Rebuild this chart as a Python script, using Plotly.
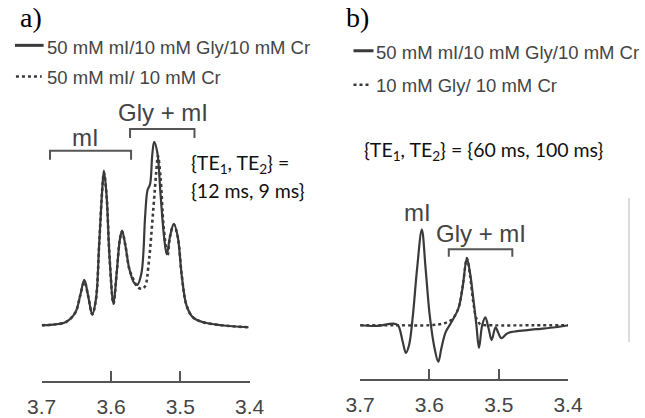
import plotly.graph_objects as go

# ---------------- data ----------------
tick_vals = [3.7, 3.6, 3.5, 3.4]
tick_text = ["3.7", "3.6", "3.5", "3.4"]

# Panel a: {TE1, TE2} = {12 ms, 9 ms}
a_ppm_solid = [3.700, 3.6835, 3.665, 3.6514, 3.6445, 3.6385, 3.633, 3.627, 3.6216, 3.617,
               3.6124, 3.6102, 3.6065, 3.6019, 3.5964, 3.5918, 3.5872, 3.584, 3.579, 3.5735,
               3.5666, 3.562, 3.556, 3.5505, 3.5473, 3.5436, 3.5404, 3.5377, 3.5331, 3.5285,
               3.523, 3.5194, 3.5148, 3.5093, 3.5037, 3.4978, 3.4909, 3.4817, 3.4679, 3.4405, 3.4015]
a_int_solid = [0, 0.7, 3.3, 13, 30, 46, 30, 11, 27, 83,
               140, 157, 133, 67, 22, 53, 87, 96, 80, 57,
               43, 41, 53, 113, 137, 143, 173, 186, 175, 133,
               87, 72, 90, 103, 90, 50, 20, 8, 3.3, 0, -2]

a_ppm_dot = [3.700, 3.6835, 3.665, 3.6514, 3.6445, 3.6385, 3.633, 3.627, 3.6216, 3.617,
             3.6124, 3.6102, 3.6065, 3.6019, 3.5964, 3.5918, 3.5872, 3.584, 3.579, 3.5735,
             3.5666, 3.562, 3.5551, 3.5505, 3.546, 3.539, 3.5345, 3.5322, 3.5285, 3.524,
             3.5184, 3.5148, 3.5093, 3.5037, 3.4978, 3.4909, 3.4817, 3.4679, 3.4405, 3.4015]
a_int_dot = [0, 0.7, 3.3, 13, 30, 44, 30, 11, 27, 83,
             140, 155, 133, 67, 22, 53, 87, 95, 80, 57,
             45, 39, 37, 40, 60, 117, 157, 172, 150, 100,
             71, 90, 102, 90, 50, 20, 8, 3.3, 0, -2]

# Panel b: {TE1, TE2} = {60 ms, 100 ms}
b_ppm_solid = [3.700, 3.6752, 3.6523, 3.6454, 3.6385, 3.634, 3.6294, 3.6239, 3.6179, 3.611,
               3.6055, 3.5996, 3.5927, 3.5872, 3.5827, 3.5766, 3.5675, 3.5583, 3.5524, 3.546,
               3.5414, 3.5367, 3.5322, 3.5285, 3.5239, 3.5194, 3.5147, 3.5102, 3.5047, 3.501,
               3.4964, 3.4872, 3.4735, 3.446, 3.4184, 3.400]
b_int_solid = [0, -0.7, 1.7, 0, -17, -28, -20, 10, 57, 97,
               57, 10, -23, -37, -23, -7, 4, 17, 37, 68,
               53, 27, 0, -23, 0, 8, -3, -15, -2, -7,
               -13, -8, -6, -4, -2, 0]

b_ppm_dot = [3.700, 3.650, 3.600, 3.579, 3.5675, 3.5583, 3.5514, 3.546, 3.5414, 3.5367,
             3.5322, 3.5263, 3.510, 3.450, 3.400]
b_int_dot = [0, 0, 0, 2, 6, 17, 43, 68, 50, 23,
             7, 1, 0, 0, 0]

# ---------------- styling ----------------
W, H = 645, 418
LINE = "#3a3a3a"
GRAY = "#555555"
TXT = "#444444"


def px(x):
    return x / W


def py(y):
    return 1 - y / H


fig = go.Figure()
fig.add_trace(go.Scatter(x=a_ppm_solid, y=a_int_solid, mode="lines", line_shape="spline",
                         line=dict(color=LINE, width=2.2), xaxis="x", yaxis="y", showlegend=False))
fig.add_trace(go.Scatter(x=a_ppm_dot, y=a_int_dot, mode="lines", line_shape="spline",
                         line=dict(color=LINE, width=2.6, dash="dot"), xaxis="x", yaxis="y", showlegend=False))
fig.add_trace(go.Scatter(x=b_ppm_dot, y=b_int_dot, mode="lines", line_shape="spline",
                         line=dict(color=LINE, width=2.4, dash="dot"), xaxis="x2", yaxis="y2", showlegend=False))
fig.add_trace(go.Scatter(x=b_ppm_solid, y=b_int_solid, mode="lines", line_shape="spline",
                         line=dict(color=LINE, width=2.2), xaxis="x2", yaxis="y2", showlegend=False))

xcommon = dict(range=[3.7, 3.4], tickvals=tick_vals, ticktext=tick_text, showline=True,
               linecolor=GRAY, linewidth=2, ticks="inside", ticklen=10, tickwidth=2,
               tickcolor=GRAY, showgrid=False, zeroline=False, ticklabelstandoff=5,
               tickfont=dict(family="Liberation Sans", size=21, color=TXT))

fig.update_layout(
    width=W, height=H, margin=dict(l=0, r=0, t=0, b=0),
    paper_bgcolor="white", plot_bgcolor="white",
    xaxis=dict(domain=[px(28), px(246)], anchor="y", **xcommon),
    yaxis=dict(domain=[py(387), py(100)], range=[-57, 230], visible=False, anchor="x"),
    xaxis2=dict(domain=[px(362), px(580)], anchor="y2", **xcommon),
    yaxis2=dict(domain=[py(385), py(100)], range=[-55, 230], visible=False, anchor="x2"),
)

shapes = []


def bracket(xref, yref, x0, x1, yv, depth):
    shapes.append(dict(type="path", xref=xref, yref=yref,
                       path=f"M {x0},{yv - depth} L {x0},{yv} L {x1},{yv} L {x1},{yv - depth}",
                       line=dict(color=GRAY, width=2)))


bracket("x", "y", 3.688, 3.571, 177, 9)
bracket("x", "y", 3.5725, 3.4795, 199, 9)
bracket("x2", "y2", 3.5721, 3.4804, 77, 7.5)

# legend samples
shapes.append(dict(type="line", xref="paper", yref="paper", x0=px(0), x1=px(30), y0=py(46), y1=py(46),
                   line=dict(color=LINE, width=3)))
shapes.append(dict(type="line", xref="paper", yref="paper", x0=px(1), x1=px(28), y0=py(77.5), y1=py(77.5),
                   line=dict(color=LINE, width=2.5, dash="dot")))
shapes.append(dict(type="line", xref="paper", yref="paper", x0=px(355), x1=px(376), y0=py(51.5), y1=py(51.5),
                   line=dict(color=LINE, width=3)))
shapes.append(dict(type="line", xref="paper", yref="paper", x0=px(355), x1=px(373), y0=py(86), y1=py(86),
                   line=dict(color=LINE, width=2.5, dash="dot")))
# faint frame edge at the right
shapes.append(dict(type="line", xref="paper", yref="paper", x0=px(644), x1=px(644), y0=py(201), y1=py(347),
                   line=dict(color="#d0d0d0", width=1.5)))
fig.update_layout(shapes=shapes)

ann = []
sans = "Liberation Sans"
calib = "Lato"


def note(text, x, y, xref="paper", yref="paper", size=18.5, family=sans, color=TXT, xanchor="left"):
    ann.append(dict(text=text, x=x, y=y, xref=xref, yref=yref, showarrow=False, xanchor=xanchor,
                    yanchor="middle", font=dict(family=family, size=size, color=color)))


note("a)", px(3), py(18), size=28, family="Liberation Serif", color="#000")
note("b)", px(345), py(18), size=28, family="Liberation Serif", color="#000")
note("50 mM mI/10 mM Gly/10 mM Cr", px(31), py(48))
note("50 mM mI/ 10 mM Cr", px(31), py(79))
note("50 mM mI/10 mM Gly/10 mM Cr", px(376), py(53))
note("10 mM Gly/ 10 mM Cr", px(376), py(87))

note("mI", 3.6367, 191, "x", "y", size=24, xanchor="center")
note("Gly + mI", 3.5253, 216, "x", "y", size=24, xanchor="center")
note("{TE<sub>1</sub>, TE<sub>2</sub>} =", 3.4875, 164, "x", "y", size=19.5, family=calib, color="#111")
note("{12 ms, 9 ms}", 3.4875, 137, "x", "y", size=19.5, family=calib, color="#111")

note("mI", 3.6175, 114, "x2", "y2", size=24, xanchor="center")
note("Gly + mI", 3.5253, 93, "x2", "y2", size=24, xanchor="center")
note("{TE<sub>1</sub>, TE<sub>2</sub>} = {60 ms, 100 ms}", 3.5216, 176.5, "x2", "y2", size=19.5,
     family=calib, color="#111", xanchor="center")
fig.update_layout(annotations=ann)

fig.write_html("out.html", config={"displayModeBar": False},
               post_script="document.body.style.margin='0';document.body.style.overflow='hidden';")
